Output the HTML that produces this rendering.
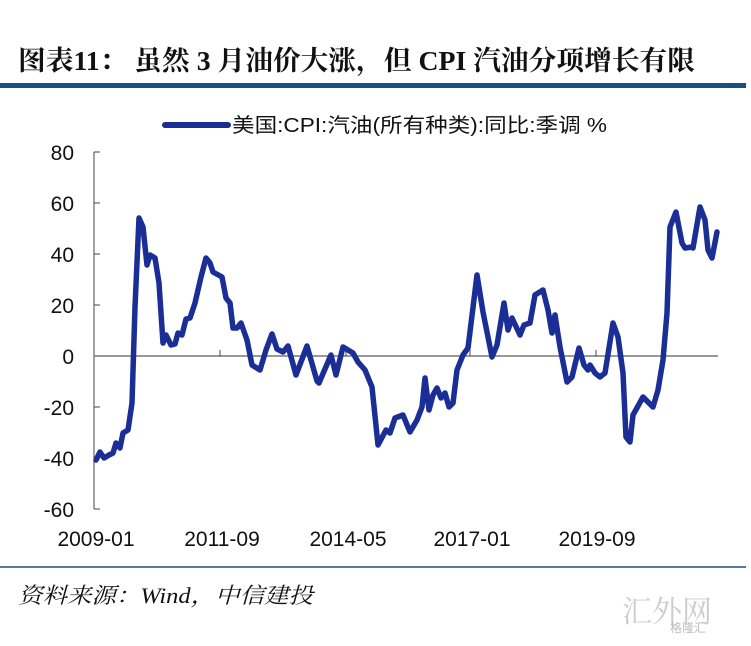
<!DOCTYPE html>
<html><head><meta charset="utf-8"><style>
body{margin:0;background:#fff;width:751px;height:641px;overflow:hidden;}
</style></head><body>
<svg width="751" height="641" xmlns="http://www.w3.org/2000/svg">
<text x="18" y="70" font-family="Liberation Serif, Noto Serif CJK SC, serif" font-weight="bold" font-size="27" fill="#111" textLength="677" lengthAdjust="spacingAndGlyphs">图表11：  虽然 3 月油价大涨，但 CPI 汽油分项增长有限</text>
<rect x="0" y="83" width="746" height="5" fill="#174f7f"/>
<line x1="165" y1="125" x2="228" y2="125" stroke="#1a2e96" stroke-width="6" stroke-linecap="round"/>
<text x="232" y="132" font-family="Liberation Sans, Noto Sans CJK SC, sans-serif" font-size="20" fill="#111" textLength="375" lengthAdjust="spacingAndGlyphs">美国:CPI:汽油(所有种类):同比:季调 %</text>
<g font-family="Liberation Sans, sans-serif" font-size="21" fill="#111" text-anchor="end">
<text x="74" y="160">80</text><text x="74" y="211">60</text><text x="74" y="262">40</text><text x="74" y="313">20</text><text x="74" y="364">0</text><text x="74" y="415">-20</text><text x="74" y="466">-40</text><text x="74" y="517">-60</text>
</g>
<g stroke="#444" stroke-width="1" fill="none">
<line x1="94" y1="152" x2="94" y2="509"/>
<line x1="94" y1="152" x2="100" y2="152"/><line x1="94" y1="203" x2="100" y2="203"/><line x1="94" y1="254" x2="100" y2="254"/><line x1="94" y1="305" x2="100" y2="305"/><line x1="94" y1="407" x2="100" y2="407"/><line x1="94" y1="458" x2="100" y2="458"/><line x1="94" y1="509" x2="100" y2="509"/>
<line x1="94" y1="356" x2="718" y2="356" stroke="#777" stroke-width="1.5"/>
<line x1="220" y1="350" x2="220" y2="356"/><line x1="346" y1="350" x2="346" y2="356"/><line x1="470" y1="350" x2="470" y2="356"/><line x1="596" y1="350" x2="596" y2="356"/>
</g>
<g font-family="Liberation Sans, sans-serif" font-size="21" fill="#111" text-anchor="middle">
<text x="96" y="546">2009-01</text><text x="222" y="546">2011-09</text><text x="348" y="546">2014-05</text><text x="472" y="546">2017-01</text><text x="597" y="546">2019-09</text>
</g>
<polyline fill="none" stroke="#1a2e96" stroke-width="5.5" stroke-linejoin="round" stroke-linecap="round" points="96,460 100,452 104,458 109,455 113,453 116,443 120,448 123,433 128,430 132,403 135,307 139,218 143,227 147,265 150,255 155,258 159,283 163,343 166,335 171,345 175,344 178,333 182,335 186,319 190,318 195,303 201,277 206,258 210,263 213,272 222,277 226,298 230,303 233,328 237,328 241,323 247,340 252,365 260,370 266,350 272,334 277,349 283,352 288,346 296,375 307,346 317,381 319,383 331,355 336,375 343,347 353,353 358,362 365,370 372,387 378,445 386,430 390,433 395,418 403,415 410,432 417,420 422,407 425,378 429,410 433,395 437,388 441,398 445,393 449,407 453,403 457,370 463,355 468,348 477,275 483,312 492,357 497,345 504,303 508,330 512,318 520,335 524,325 530,323 535,295 543,290 548,310 552,333 555,315 560,347 567,382 572,377 579,348 584,365 588,370 590,365 595,373 600,377 605,373 613,323 618,337 623,373 626,437 630,442 633,415 643,397 648,402 653,407 658,390 663,360 667,313 670,227 676,212 682,243 685,248 692,247 693,248 700,207 705,220 708,250 712,258 717,232"/>
<line x1="0" y1="567" x2="746" y2="567" stroke="#174f7f" stroke-width="1.5"/>
<text x="18" y="603" font-family="Liberation Serif, Noto Serif CJK SC, serif" font-style="italic" font-size="22" fill="#111" textLength="295" lengthAdjust="spacingAndGlyphs">资料来源：Wind，中信建投</text>
<text x="622" y="622" font-family="Noto Serif CJK SC, serif" font-size="30" fill="#ccc">汇外网</text>
<text x="670" y="632" font-family="Liberation Sans, Noto Sans CJK SC, sans-serif" font-size="12" fill="#bbb">格隆汇</text>
</svg>
</body></html>
